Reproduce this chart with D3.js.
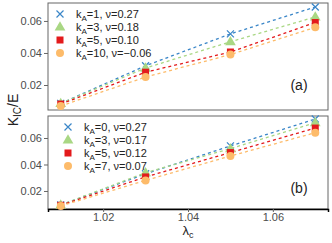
<!DOCTYPE html>
<meta charset="utf-8">
<style>
body { margin: 0; background: #fff; }
text { font-family: 'Liberation Sans', Arial, sans-serif; }
.tick text { fill: #4d4d4d; font-size: 11px; }
</style>
<body>
<svg width="332" height="243"></svg>
<script src="https://cdnjs.cloudflare.com/ajax/libs/d3/7.8.5/d3.min.js"></script>
<script>
// stretch ratios
var lambdaC = [1.01, 1.03, 1.05, 1.07];

// panel (a)
var labelsA = ["1, \u03bd=0.27", "3, \u03bd=0.18", "5, \u03bd=0.10", "10, \u03bd=\u22120.06"];
var kA1 = [0.0085, 0.032, 0.0519, 0.0687];
var kA3 = [0.0085, 0.0306, 0.047, 0.0625];
var kA5 = [0.0081, 0.028, 0.0406, 0.059];
var kA10 = [0.0069, 0.025, 0.039, 0.056];

// panel (b)
var labelsB = ["0, \u03bd=0.27", "3, \u03bd=0.17", "5, \u03bd=0.12", "7, \u03bd=0.07"];
var kB0 = [0.0094, 0.033, 0.054, 0.0743];
var kB3 = [0.0094, 0.0338, 0.052, 0.0715];
var kB5 = [0.0092, 0.0306, 0.049, 0.0675];
var kB7 = [0.0087, 0.028, 0.0464, 0.064];

var yTicks = [0.02, 0.04, 0.06];
var xTicks = [1.02, 1.04, 1.06];

var colors = ["#3a86c8", "#a9d784", "#e31a1c", "#fdbb6a"];
var shapes = ["cross", "tri", "square", "circle"];

var svg = d3.select("svg");
var x = d3.scaleLinear().domain([1.007, 1.073]).range([48, 328]);

function panel(top, bottom, ydom, series, labels, legX, tag, showX) {
  var y = d3.scaleLinear().domain(ydom).range([bottom, top]);
  var g = svg.append("g");

  g.append("rect").attr("x", 48).attr("y", top).attr("width", 280).attr("height", bottom - top)
    .attr("fill", "none").attr("stroke", "#666").attr("stroke-width", 1);

  var ya = g.append("g").attr("transform", "translate(48,0)")
    .call(d3.axisLeft(y).tickValues(yTicks).tickFormat(d3.format(".2f")).tickSize(4).tickPadding(2));
  ya.select(".domain").remove();
  ya.selectAll(".tick line").attr("stroke", "#666");

  if (showX) {
    var xa = g.append("g").attr("transform", "translate(0," + bottom + ")")
      .call(d3.axisBottom(x).tickValues(xTicks).tickFormat(d3.format(".2f")).tickSize(3).tickPadding(1));
    xa.select(".domain").attr("stroke", "#000").attr("stroke-width", 1.5);
    xa.selectAll(".tick line").attr("stroke", "#666");
  }

  var line = d3.line().x(function(d, i) { return x(lambdaC[i]); }).y(function(d) { return y(d); });

  series.forEach(function(s, k) {
    g.append("path").datum(s).attr("d", line).attr("fill", "none")
      .attr("stroke", colors[k]).attr("stroke-width", 1.3).attr("stroke-dasharray", "3,3");
  });
  series.forEach(function(s, k) {
    s.forEach(function(v, i) { marker(g, shapes[k], x(lambdaC[i]), y(v), colors[k]); });
  });

  labels.forEach(function(l, k) {
    var ly = top + 11 + k * 13;
    marker(g, shapes[k], legX, ly, colors[k]);
    var t = g.append("text").attr("x", legX + 16).attr("y", ly + 4).attr("font-size", "11px").attr("fill", "#222");
    t.append("tspan").text("k");
    t.append("tspan").attr("font-size", "8px").attr("dy", 3).text("A");
    t.append("tspan").attr("dy", -3).text("=" + l);
  });

  g.append("text").attr("x", 299).attr("y", tag.y).attr("text-anchor", "middle")
    .attr("font-size", "14px").attr("fill", "#222").text(tag.t);
}

function marker(g, shape, cx, cy, c) {
  if (shape == "cross") {
    g.append("path").attr("d", "M" + (cx - 3.5) + "," + (cy - 3.5) + "L" + (cx + 3.5) + "," + (cy + 3.5) +
      "M" + (cx - 3.5) + "," + (cy + 3.5) + "L" + (cx + 3.5) + "," + (cy - 3.5))
      .attr("stroke", c).attr("stroke-width", 1.2);
  } else if (shape == "tri") {
    g.append("path").attr("d", d3.symbol(d3.symbolTriangle, 50)()).attr("transform", "translate(" + cx + "," + (cy + 0.5) + ")").attr("fill", c);
  } else if (shape == "square") {
    g.append("rect").attr("x", cx - 3.5).attr("y", cy - 3.5).attr("width", 7).attr("height", 7).attr("fill", c);
  } else {
    g.append("circle").attr("cx", cx).attr("cy", cy).attr("r", 4).attr("fill", c);
  }
}

panel(3, 110, [0.0044, 0.0712], [kA1, kA3, kA5, kA10], labelsA, 60, {t: "(a)", y: 90}, false);
panel(116, 209, [0.0064, 0.0766], [kB0, kB3, kB5, kB7], labelsB, 68, {t: "(b)", y: 193}, true);

// axis titles
var yl = svg.append("text").attr("transform", "translate(18,110) rotate(-90)").attr("text-anchor", "middle")
  .attr("font-size", "14px").attr("fill", "#222");
yl.append("tspan").text("K");
yl.append("tspan").attr("font-size", "10px").attr("dy", 3).text("IC");
yl.append("tspan").attr("dy", -3).text("/E");

var xl = svg.append("text").attr("x", 188).attr("y", 235).attr("text-anchor", "middle")
  .attr("font-size", "13px").attr("fill", "#222");
xl.append("tspan").text("\u03bb");
xl.append("tspan").attr("font-size", "9px").attr("dy", 3).text("c");
</script>
</body>
